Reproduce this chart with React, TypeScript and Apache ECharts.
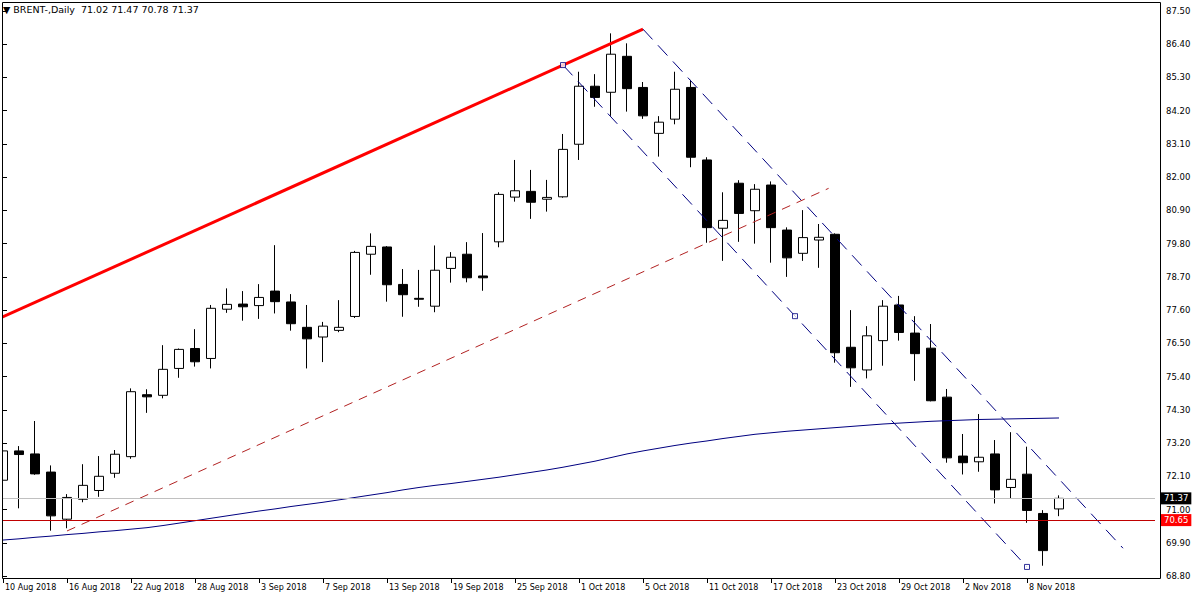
import React, { useEffect, useRef } from 'react';
import * as echarts from 'echarts';

const dates = [
  '10 Aug 2018', '13 Aug 2018', '14 Aug 2018', '15 Aug 2018', '16 Aug 2018', '17 Aug 2018',
  '20 Aug 2018', '21 Aug 2018', '22 Aug 2018', '23 Aug 2018', '24 Aug 2018',
  '27 Aug 2018', '28 Aug 2018', '29 Aug 2018', '30 Aug 2018', '31 Aug 2018',
  '3 Sep 2018', '4 Sep 2018', '5 Sep 2018', '6 Sep 2018', '7 Sep 2018',
  '10 Sep 2018', '11 Sep 2018', '12 Sep 2018', '13 Sep 2018', '14 Sep 2018',
  '17 Sep 2018', '18 Sep 2018', '19 Sep 2018', '20 Sep 2018', '21 Sep 2018',
  '24 Sep 2018', '25 Sep 2018', '26 Sep 2018', '27 Sep 2018', '28 Sep 2018',
  '1 Oct 2018', '2 Oct 2018', '3 Oct 2018', '4 Oct 2018', '5 Oct 2018',
  '8 Oct 2018', '9 Oct 2018', '10 Oct 2018', '11 Oct 2018', '12 Oct 2018',
  '15 Oct 2018', '16 Oct 2018', '17 Oct 2018', '18 Oct 2018', '19 Oct 2018',
  '22 Oct 2018', '23 Oct 2018', '24 Oct 2018', '25 Oct 2018', '26 Oct 2018',
  '29 Oct 2018', '30 Oct 2018', '31 Oct 2018', '1 Nov 2018', '2 Nov 2018',
  '5 Nov 2018', '6 Nov 2018', '7 Nov 2018', '8 Nov 2018', '9 Nov 2018', '12 Nov 2018',
];

const opens = [
  71.97, 72.94, 72.84, 72.24, 70.68, 71.34, 71.63, 72.20, 72.75, 74.80,
  74.78, 75.67, 76.33, 76.00, 77.63, 77.80, 77.75, 78.23, 77.87, 77.03,
  76.71, 76.93, 77.39, 79.45, 79.69, 78.45, 77.99, 77.73, 78.98, 79.45,
  78.73, 79.86, 81.34, 81.53, 81.27, 81.35, 83.09, 85.01, 84.81, 86.00,
  84.97, 83.45, 83.92, 84.97, 82.57, 80.31, 81.80, 80.89, 81.74, 80.25,
  79.48, 79.92, 80.11, 76.37, 75.62, 76.59, 77.77, 76.84, 76.34, 74.72,
  72.77, 72.58, 72.84, 71.73, 72.17, 70.87, 71.02,
];
const highs = [
  73.13, 73.10, 73.93, 72.46, 71.51, 72.50, 72.77, 72.97, 75.01, 74.98,
  76.44, 76.33, 76.97, 77.77, 78.32, 78.23, 78.46, 79.75, 78.13, 77.77,
  77.21, 77.93, 79.56, 80.14, 79.72, 78.96, 78.93, 79.74, 79.52, 79.85,
  80.15, 81.50, 82.57, 82.24, 81.91, 83.43, 85.49, 85.41, 86.76, 86.43,
  85.15, 84.02, 85.49, 85.22, 82.66, 81.50, 81.90, 81.77, 81.86, 80.34,
  80.91, 80.45, 80.14, 77.60, 77.07, 77.93, 78.07, 77.40, 77.14, 74.99,
  73.50, 74.16, 73.30, 73.56, 73.08, 70.98, 71.47,
];
const lows = [
  71.39, 71.04, 72.15, 70.30, 70.38, 71.24, 71.42, 72.05, 72.68, 74.20,
  74.68, 75.36, 75.73, 75.67, 77.51, 77.25, 77.31, 77.49, 76.92, 75.67,
  75.88, 76.87, 77.34, 78.77, 77.88, 77.38, 77.71, 77.53, 78.51, 78.52,
  78.24, 79.68, 81.19, 80.62, 80.86, 81.32, 82.57, 84.33, 84.03, 84.17,
  83.93, 82.68, 83.75, 82.33, 79.83, 79.23, 79.86, 79.80, 79.17, 78.70,
  79.23, 79.00, 75.86, 75.06, 75.34, 75.76, 76.59, 75.26, 74.58, 72.55,
  72.16, 72.25, 71.20, 71.36, 70.56, 69.14, 70.78,
];
const closes = [
  72.94, 72.82, 72.18, 70.79, 71.40, 71.80, 72.10, 72.83, 74.90, 74.73,
  75.64, 76.30, 75.89, 77.66, 77.79, 77.71, 78.02, 77.88, 77.15, 76.65,
  77.07, 77.03, 79.51, 79.71, 78.44, 78.11, 77.96, 78.92, 79.35, 78.67,
  78.67, 81.43, 81.55, 81.17, 81.33, 82.92, 85.01, 84.64, 86.07, 84.93,
  84.03, 83.82, 84.91, 82.66, 80.33, 80.57, 80.80, 81.60, 80.33, 79.33,
  80.00, 80.01, 76.19, 75.69, 76.75, 77.73, 76.86, 76.16, 74.60, 72.71,
  72.55, 72.73, 71.65, 72.00, 70.97, 69.64, 71.37,
];

// moving average (blue line)
const movingAverage = [
  69.99, 70.03, 70.08, 70.12, 70.17, 70.21, 70.26, 70.30, 70.35, 70.40,
  70.47, 70.55, 70.63, 70.71, 70.79, 70.87, 70.95, 71.02, 71.10, 71.17,
  71.24, 71.32, 71.40, 71.48, 71.56, 71.65, 71.73, 71.80, 71.86, 71.93,
  72.00, 72.07, 72.15, 72.23, 72.31, 72.40, 72.50, 72.60, 72.72, 72.84,
  72.94, 73.03, 73.12, 73.20, 73.27, 73.35, 73.42, 73.49, 73.54, 73.59,
  73.63, 73.67, 73.71, 73.75, 73.79, 73.83, 73.86, 73.89, 73.92, 73.94,
  73.96, 73.98, 73.99, 74.00, 74.01, 74.02, 74.03,
];

const futureSlots = ['', '', '', '', '', ''];

const priceMin = 68.8;
const priceMax = 87.5;
const priceStep = 1.1;

const bidPrice = 71.37;
const horizontalLinePrice = 70.65;

// trend objects: [bar index, price]
const redTrend = [[-1, 77.14], [40, 86.9]];
const channelUpper = [[40, 86.9], [70, 69.72]];
const channelLower = [[35, 85.71], [64, 69.1]];
const channelHandles = [[35, 85.71], [49.5, 77.4], [64, 69.1]];
const redDashed = [[4, 70.29], [51.6, 81.63]];

const FONT = 'DejaVu Sans';

export default function App() {
  const ref = useRef<HTMLDivElement>(null);

  useEffect(() => {
    if (!ref.current) return;
    const chart = echarts.init(ref.current, null, { renderer: 'svg' });
    const categories = [...dates, ...futureSlots];
    const lastBar = categories.length - 1;
    const candles = dates.map((_, i) => [opens[i], closes[i], lows[i], highs[i]]);
    const n = dates.length - 1;
    const titleText = `\u25BC BRENT-,Daily  ${opens[n].toFixed(2)} ${highs[n].toFixed(2)} ${lows[n].toFixed(2)} ${closes[n].toFixed(2)}`;
    const showTick = (i: number, v: string) => i % 4 === 0 && v !== '';

    const option: any = {
      animation: false,
      backgroundColor: '#ffffff',
      title: {
        text: titleText,
        left: 3,
        top: 4,
        padding: 0,
        textStyle: { fontSize: 9.5, fontWeight: 'normal', color: '#000', fontFamily: FONT },
      },
      grid: { left: 3, right: 45, top: 11, bottom: 24, containLabel: false },
      xAxis: [
        {
          type: 'category',
          data: categories,
          boundaryGap: false,
          position: 'bottom',
          offset: 3,
          axisLine: { show: false },
          axisTick: { show: true, length: 4, interval: showTick, lineStyle: { color: '#000', width: 1 } },
          axisLabel: {
            interval: showTick,
            align: 'left',
            margin: 4,
            padding: [0, 0, 0, 2],
            fontSize: 8,
            fontFamily: FONT,
            color: '#000',
          },
          splitLine: { show: false },
        },
        {
          type: 'value',
          min: 0,
          max: lastBar,
          show: false,
          splitLine: { show: false },
        },
      ],
      yAxis: {
        type: 'value',
        position: 'right',
        min: priceMin,
        max: priceMax,
        interval: priceStep,
        offset: 5,
        scale: true,
        axisLine: { show: false },
        axisTick: { show: true, length: 4, lineStyle: { color: '#000', width: 1 } },
        axisLabel: {
          margin: 6,
          fontSize: 8.5,
          fontFamily: FONT,
          color: '#000',
          formatter: (v: number) => v.toFixed(2),
        },
        splitLine: { show: false },
      },
      series: [
        {
          type: 'candlestick',
          name: 'BRENT',
          xAxisIndex: 0,
          data: candles,
          barWidth: 9,
          itemStyle: {
            color: '#ffffff',
            color0: '#000000',
            borderColor: '#000000',
            borderColor0: '#000000',
            borderWidth: 1,
          },
          markLine: {
            silent: true,
            symbol: 'none',
            animation: false,
            data: [
              {
                yAxis: bidPrice,
                lineStyle: { color: '#c0c0c0', type: 'solid', width: 1 },
                label: {
                  position: 'end',
                  distance: 6,
                  formatter: bidPrice.toFixed(2),
                  color: '#fff',
                  backgroundColor: '#000',
                  padding: [1, 3, 1, 3],
                  lineHeight: 10,
                  fontSize: 8.5,
                  fontFamily: FONT,
                },
              },
              {
                yAxis: horizontalLinePrice,
                lineStyle: { color: '#c00000', type: 'solid', width: 1 },
                label: {
                  position: 'end',
                  distance: 6,
                  formatter: horizontalLinePrice.toFixed(2),
                  color: '#fff',
                  backgroundColor: '#ff0000',
                  padding: [1, 3, 1, 3],
                  lineHeight: 10,
                  fontSize: 8.5,
                  fontFamily: FONT,
                },
              },
            ],
          },
        },
        {
          type: 'line',
          name: 'MA',
          xAxisIndex: 0,
          data: movingAverage,
          symbol: 'none',
          lineStyle: { color: '#000080', width: 1 },
        },
        {
          type: 'line',
          xAxisIndex: 1,
          data: redTrend,
          symbol: 'none',
          lineStyle: { color: '#ff0000', width: 3 },
        },
        {
          type: 'line',
          xAxisIndex: 1,
          data: channelUpper,
          symbol: 'none',
          lineStyle: { color: '#000080', width: 1, type: [14, 8] },
        },
        {
          type: 'line',
          xAxisIndex: 1,
          data: channelLower,
          symbol: 'none',
          lineStyle: { color: '#000080', width: 1, type: [14, 8] },
        },
        {
          type: 'line',
          xAxisIndex: 1,
          data: redDashed,
          symbol: 'none',
          lineStyle: { color: '#b22222', width: 1, type: [9, 7] },
        },
        {
          type: 'scatter',
          xAxisIndex: 1,
          data: channelHandles,
          symbol: 'rect',
          symbolSize: 5,
          itemStyle: { color: '#ffffff', borderColor: '#000080', borderWidth: 1 },
          z: 5,
        },
      ],
      graphic: [
        {
          type: 'rect',
          z: 100,
          silent: true,
          shape: { x: 0, y: 0, width: 2.5, height: 600 },
          style: { fill: '#ffffff' },
        },
        {
          type: 'rect',
          z: 101,
          silent: true,
          shape: { x: 2.5, y: 2.5, width: 1158, height: 576 },
          style: { fill: 'none', stroke: '#000', lineWidth: 1 },
        },
      ],
    };

    chart.setOption(option);
    return () => chart.dispose();
  }, []);

  return (
    <div
      ref={ref}
      style={{ position: 'fixed', left: 0, top: 0, width: 1200, height: 600, background: '#fff' }}
    />
  );
}
